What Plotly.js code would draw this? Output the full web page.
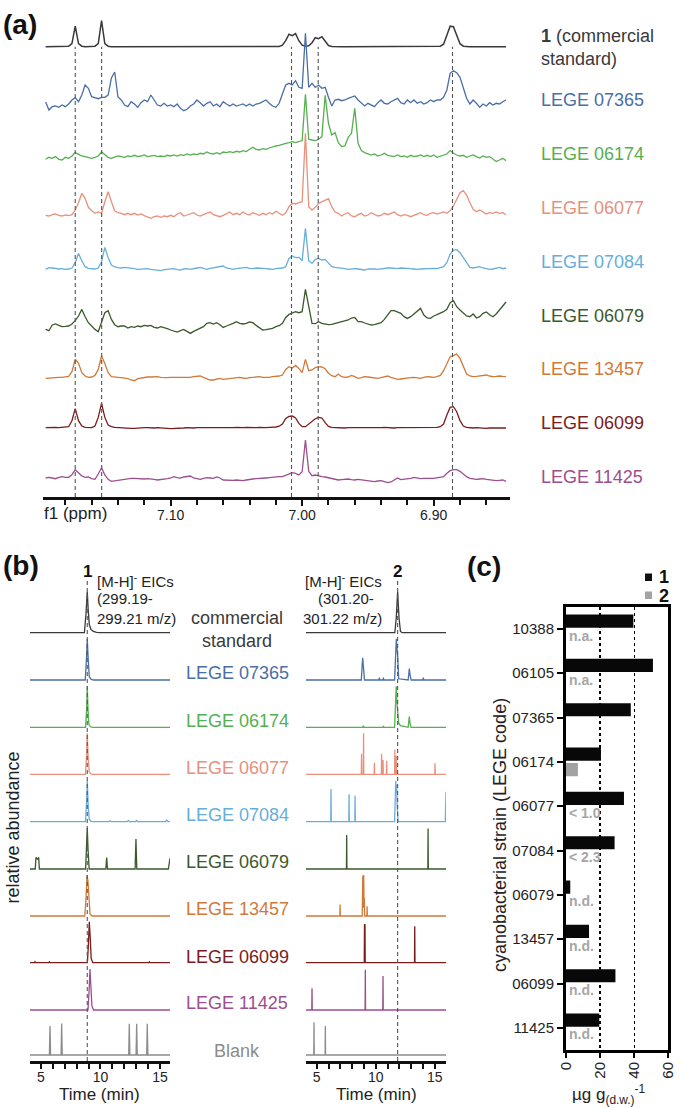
<!DOCTYPE html>
<html><head><meta charset="utf-8">
<script src="https://cdn.plot.ly/plotly-3.0.1.min.js"></script>
<style>html,body{margin:0;padding:0;background:#fff}#chart{width:685px;height:1108px}</style>
</head><body><div id="chart"></div>
<script>
// ---------------- DATA ----------------
// (a) 1H NMR, chemical shift grid (ppm) and intensities (arbitrary units)
const ppm = [7.195,7.1925,7.19,7.1875,7.185,7.1825,7.18,7.1775,7.175,7.1725,
7.17,7.1675,7.165,7.1625,7.16,7.1575,7.155,7.1525,7.15,7.1475,
7.145,7.1425,7.14,7.1375,7.135,7.1325,7.13,7.1275,7.125,7.1225,
7.12,7.1175,7.115,7.1125,7.11,7.1075,7.105,7.1025,7.1,7.0975,
7.095,7.0925,7.09,7.0875,7.085,7.0825,7.08,7.0775,7.075,7.0725,
7.07,7.0675,7.065,7.0625,7.06,7.0575,7.055,7.0525,7.05,7.0475,
7.045,7.0425,7.04,7.0375,7.035,7.0325,7.03,7.0275,7.025,7.0225,
7.02,7.0175,7.015,7.0125,7.01,7.0075,7.005,7.0025,7.0,6.9975,
6.995,6.9925,6.99,6.9875,6.985,6.9825,6.98,6.9775,6.975,6.9725,
6.97,6.9675,6.965,6.9625,6.96,6.9575,6.955,6.9525,6.95,6.9475,
6.945,6.9425,6.94,6.9375,6.935,6.9325,6.93,6.9275,6.925,6.9225,
6.92,6.9175,6.915,6.9125,6.91,6.9075,6.905,6.9025,6.9,6.8975,
6.895,6.8925,6.89,6.8875,6.885,6.8825,6.88,6.8775,6.875,6.8725,
6.87,6.8675,6.865,6.8625,6.86,6.8575,6.855,6.8525,6.85,6.8475,
6.845];

const nmrStandard = [0,0,0,0,0,0,0,0.5,3,20.5,
3,0.5,0,0,0,0.5,3,26,3,0.5,
0,0,0,0,0,0,0,0,0,0,
0,0,0,0,0,0,0,0,0,0,
0,0,0,0,0,0,0,0,0,0,
0,0,0,0,0,0,0,0,0,0,
0,0,0,0,0,0,0,0,0,0,
0,0.3,1.5,6,12.5,11,13,6,1.5,0.5,
1,4,9,8,10,5,1.2,0.3,0,0,
0,0,0,0,0,0,0,0,0,0,
0,0,0,0,0,0,0,0,0,0,
0,0,0,0,0,0,0,0,0,0,
0.5,2.5,11,20.5,20,12,3,0.5,0,0,
0,0,0,0,0,0,0,0,0,0,
0];

const nmr07365 = [3,-5,-1.7,-1,-2.3,0,-1.7,1,5,7.3,
3.3,10,20,16.7,8.3,7,6.3,7.7,7.7,10,
27,33,8,5,0,-1.7,3.3,1,-2.3,2.3,
5,3.3,10,5,0,-1,1.7,-1,0,-1.7,
1,-3.3,-5.7,-4.3,-1,1,5,2.3,-1,1.7,
3.3,-1,1,-1.7,3.3,1,-1,1,-1,0,
1,-1,1,-1,1,1.7,3.3,5,1.7,-1,
-2.3,1.7,11,20,21.7,20,24.3,17.7,16.7,71.7,
17.7,21.7,17.7,20,16.7,17.7,7.7,-1,5,5.7,
4.3,5,6.7,7.7,9,5,1.7,-1,1.7,0,
-1.7,2.3,5,1.7,1,3.3,5,6.7,2.3,1,
5,2.3,5,1.7,3.3,1,2.3,5,3.3,5,
5,7.7,15,31.7,34.3,32.3,27.7,17.7,6.7,1,
5,1.7,-2.3,1,-1,2.3,0,1.7,1,3.3,
5];

const nmr06174 = [0,2,1,2.7,0,-0.7,2,1,3.3,6.7,
5,3.3,2.7,2,1,2,3.3,7.3,4.3,2,
1,2,3.3,2.7,2,3.3,2.7,4,2.7,3.3,
4.3,2.7,3.3,4,2.7,3.3,2.7,4,3.3,4.3,
3.3,4.7,4,5.3,4.3,5.3,4.7,6,5.3,7.3,
6,5.3,6.7,5.3,7.3,6.7,7.7,6.7,8,7.3,
8.7,7.7,10,12,10,9.3,10.7,10,11.3,12.7,
13.3,14,15.3,16,16.7,17.7,16.7,18,18.7,65,
20,19.3,18.7,20,22.7,64,36,24.3,26.7,16.7,
12.7,13.3,22,26,51,16,8.7,6.7,5.3,4.3,
5.3,3.3,4.3,6,4,3.3,2.7,4.3,2.7,3.3,
2,4,2.7,3.3,4.3,2.7,4,2.7,4.3,2,
3.3,4,5.3,8.7,6,4.3,3.3,4,2,3.3,
4.3,2.7,1.3,3.3,2,2.7,0,-2.3,-0.7,1,
-1.3];

const nmr06077 = [-0.3,-1,0.3,1,-0.3,-1,0,-0.7,0.3,5,
12.3,21.7,16.7,7.7,4.3,1.7,3,1.7,13.3,23.3,
13.3,4.3,2.3,1.7,0.3,1.7,0.3,1.7,0,1,
-0.7,-1.7,-3.3,-1.7,-1,-2.3,-1,-1.7,-0.3,-1.7,
1,2.3,-1,0,1,2.3,0,-1,0.3,1.7,
3,0.3,-1,-1.7,-0.3,1.7,3,0.3,1.7,0.3,
3,1,0,2.3,1,-0.3,1.7,0.3,2.3,1,
3.7,1.7,-0.3,2.3,8.3,11.7,11,12.3,13.3,81.7,
8.3,5,7.7,11.7,13,15,16.3,8.3,3,1.7,
-1,1,2.3,-1,-1.7,0.3,1.7,-1,0,2.3,
1,-1,-0.3,1.7,0.3,1.7,3,0.3,-1,0.3,
-0.3,-1.7,-0.3,1.7,2.3,0.3,-0.3,1.7,2.3,1,
2.3,3,1.7,4.3,9,15,22.3,24.3,20,12.3,
5.7,3.3,5,3,1,2.3,1.7,3,1.7,2.3,
0.3];

const nmr07084 = [-0.7,1,0.7,0,-0.3,0,-0.7,-0.3,0.7,6,
15.3,8,2,0.3,0,-0.3,0.7,7,21.3,11.3,
3.7,1.7,1,0.7,1.3,1,0,0,-0.7,-0.3,
0,0,-0.7,-1,-1.7,-2,-1,-0.7,-0.3,0,
-1,-1.3,-0.3,0,-0.7,-0.3,0.7,1.3,0,-0.7,
0.3,1,1.7,2,2.7,0.7,-0.3,-0.7,0,0.3,
1,1.3,0.3,0,0.7,0.7,0,0,-0.3,-0.7,
0,0,0.7,2,10.3,12.7,11,11.3,8,40.3,
8,5.3,9.3,10.3,8.7,9.3,5.3,2,1.3,1,
0.3,0,-0.7,-0.3,0,-0.3,-1,-1.3,-0.3,0,
-0.3,-0.7,0,0.3,0.7,0.7,0,0,0.7,0.7,
0.3,0,-0.3,-0.7,-0.3,0,0.3,0.7,0.3,0,
0.7,2,6,14.7,18.7,19,16,11.3,5.3,1.3,
0.7,1,2,0.7,0,-0.7,-0.3,0.7,1.3,0,
0.7];

const nmr06079 = [-2.7,-4,1.7,2.7,1.3,0,0.3,0.7,2.7,6,
10.7,17.3,10,4,0.7,-2.7,-5,5,14,16,
7.3,2,0,0.7,0.7,-1.3,0,-0.7,0.7,0,
1.3,0.7,1.3,-0.7,-1.3,0,-0.7,-2,-3.3,-4.7,
-5.3,-4,-2.7,-4.7,-6.7,-4.7,-3.3,-1.3,0,3.3,
4,2.7,4,2,-0.7,0.7,1.7,3.3,5,3.3,
2.7,3.3,4.7,4,1.3,-0.7,-3.3,-3,-2.7,-1.7,
0,1,3.3,9.3,12.3,14,15,14,15,37.3,
18.3,3.3,3,5,3.3,2.7,2,2.3,3.3,4.3,
5,5.7,6.7,8.7,9.3,5,5,3.7,2.7,1.7,
2,2.7,4,7.3,11.3,16,16,14.7,13.3,10,
8.3,10,12.7,15.3,18.3,11.7,8.7,8.3,10.7,12,
13.3,15,17.3,24,26,20,16.7,14,10.7,10,
12.7,8.7,10,13.3,14.7,12,10,12.7,17.3,20.7,
24.7];

const nmr13457 = [-0.7,-0.3,0,0,0.3,0.3,0.7,1.3,6,18.5,
14.3,5,1.7,0.3,0.7,2.3,8.3,21.7,14.3,5,
1,0.3,0.3,0,-0.3,-1,-2.3,-3,-1,-0.3,
0.3,0.7,0.7,1,1,0.3,0,0,0.3,0.3,
0.3,0,0,0,0.3,1,1.3,1.7,0.3,-1,
-2.3,-2.3,-1.3,-0.7,-1.7,-1.3,-1,-0.7,-0.3,0.3,
-0.3,-0.7,0,0.3,0.7,1,0.3,0,0.3,1,
1,1.7,2.7,8.3,11,9.7,12.3,9.3,5,18.3,
7,7.7,10,11,10.7,9,4.3,2,1,3.7,
1,0.3,0.7,2.3,1,-0.7,0,1,0.7,0.3,
-0.3,-0.7,0,0.7,1.7,0.3,-1,-1.7,-1.3,-0.7,
-0.3,0,0.3,-0.3,-0.7,0.3,1,0.7,0.3,1,
2.3,7,14.3,21,22,23.7,19.3,11,3.7,1.7,
1,1.3,1.7,2,2.7,1.7,1,1.3,1.7,1.3,
1];

const nmr06099 = [0,0.3,0,0.2,0,0.3,0.5,1,7,19,
7,1.7,0.3,0,0,1.7,10.3,24.3,10.3,2.7,
1,0.3,0,0,-0.3,-0.3,-0.7,-0.7,-0.3,-0.3,
0,0,-0.3,-0.3,0,0,-0.3,-0.7,-1,-1,
-0.7,-0.3,-0.3,0,-0.3,-0.3,0,0,-0.3,-0.7,
-0.7,-0.3,-0.3,0,0,-0.3,0,0,0.3,0,
0,0.3,0,0,0,0.3,0,0,0.3,0.3,
0.7,1.5,3.7,9.3,11.3,11.7,9.7,4.3,1,1,
3.7,6.3,9,10.3,9.7,5,1.3,0.3,0,0,
-0.3,-0.3,0,0,-0.3,-0.7,-0.3,0,0,-0.3,
-0.3,0,0,0.3,0,-0.3,-0.3,0,0,-0.3,
-0.3,0,0,0,-0.3,0,0,0,0.3,0.3,
1,3.7,12.7,20.3,21,16,7,1.7,0.3,-0.3,
-0.3,0,-0.3,-0.3,-0.7,-0.3,-0.3,-0.7,-0.3,-0.3,
-0.3];

const nmr11425 = [1,1.7,1,0.3,1.7,2.3,1.7,1.7,4.3,9.3,
6.3,3,1.7,2,0.3,-0.3,5,11.3,4,-0.3,
-2.3,-1.7,-1.3,-0.7,0,0.3,0.7,0.7,0.3,-0.3,
0,0.3,0.3,-0.3,-1,-0.7,-0.3,0.3,1,2.3,
1.3,1,2,2.3,3,1,0,-0.3,0.7,1.3,
1,0.7,2,1,-1,-1.3,-1.7,-1.3,-1,-1.3,
-1.7,-1,-0.3,0,0.3,0.3,0.7,1,1.3,1.7,
2.3,2.3,2.3,3.7,5.3,6.3,5.7,4,7.3,39,
7.7,3.3,4,3,2.3,2,1.3,0,-0.3,-1,
-0.7,0,0,-0.7,-1,-0.3,-0.7,-1.3,-1.7,-2.3,
-2.7,-2,-1.7,-2.7,-3.7,-3,-1,1,-0.7,-0.3,
0,0.7,1.7,0.7,0.3,0.7,1,0.7,0.7,1,
1.7,2.3,5.7,8.3,9.3,9.3,7.7,5,2.3,0.7,
0,-0.3,0,0.3,-0.3,-1,-1.3,-1.7,-1.3,-1,
-2.3];

// reference signals of compound 1 (dashed guides, ppm)
const refPeaksPpm = [7.1725, 7.1524, 7.0081, 6.9878, 6.8857];

const sampleNames = ['LEGE 07365','LEGE 06174','LEGE 06077','LEGE 07084','LEGE 06079','LEGE 13457','LEGE 06099','LEGE 11425'];

// (b) EICs: retention time (min) and relative abundance (%)
const eicLeftTime = [
 [4.08,8.65,8.78,8.89,8.97,9.06,9.2,9.4,9.68,9.96,15.84],
 [4.08,8.72,8.82,8.89,8.97,9.06,9.2,9.4,15.84],
 [4.08,8.75,8.84,8.89,8.95,9.03,9.2,9.4,15.84],
 [4.08,8.74,8.83,8.89,8.96,9.05,9.2,9.4,15.84],
 [4.08,8.74,8.83,8.89,8.96,9.05,9.2,9.4,10.7,10.8,10.9,12.25,12.34,12.43,12.95,13.04,13.13,15.45,15.56,15.67,15.84],
 [4.08,4.52,4.58,4.7,4.81,4.87,8.75,8.83,8.89,8.96,9.05,10.45,10.52,10.59,12.91,12.98,13.05,15.7,15.78,15.84],
 [4.08,8.68,8.78,8.87,8.95,9.03,9.12,9.3,15.84],
 [4.08,4.45,4.5,4.55,5.65,5.7,5.75,8.9,8.98,9.06,9.14,9.22,9.35,14.05,14.1,14.15,15.84],
 [4.08,8.95,9.04,9.12,9.2,9.28,9.42,15.84],
 [4.08,5.71,5.76,5.81,6.69,6.74,6.79,12.37,12.42,12.47,12.99,13.04,13.09,13.88,13.93,13.98,15.84]
];
const eicLeftAbund = [
 [0,0,45,100,55,20,8,3,1,0,0],
 [0,0,50,100,50,8,2,0,0],
 [0,0,45,100,45,6,1,0,0],
 [0,0,45,100,45,6,1,0,0],
 [0,0,45,100,45,6,1,0,0,2,0,0,3,0,0,3,0,0,4,0,0],
 [0,0,28,24,28,0,0,45,100,45,0,0,28,0,0,73,0,0,26,26],
 [0,0,40,100,85,30,5,0,0],
 [0,0,2.5,0,0,2,0,0,40,100,60,10,0,0,2,0,0],
 [0,0,45,100,55,10,0,0],
 [0,0,71,0,0,77,0,0,76,0,0,76,0,0,76,0,0]
];
const eicRightTime = [
 [4.09,11.62,11.74,11.86,11.98,12.1,12.25,15.96],
 [4.09,8.78,8.85,8.9,8.95,9.05,10.27,10.31,10.35,10.61,10.65,10.69,11.6,11.68,11.75,11.8,11.86,11.95,12.75,12.82,12.85,12.9,13.0,14.0,14.04,14.08,15.96],
 [4.09,8.9,8.95,9.0,10.6,10.65,10.7,11.6,11.67,11.74,11.8,11.88,11.95,12.1,12.75,12.82,12.85,12.9,13.0,15.96],
 [4.09,8.78,8.8,8.82,8.95,8.97,8.99,9.87,9.89,9.91,10.48,10.5,10.52,10.6,10.62,10.64,10.91,10.93,10.95,11.6,11.62,11.64,11.72,11.74,11.76,15.01,15.03,15.05,15.96],
 [4.09,6.19,6.21,6.23,7.72,7.74,7.76,8.23,8.25,8.27,11.6,11.66,11.7,11.74,11.78,11.82,11.9,15.9,15.93,15.96],
 [4.09,7.52,7.54,7.56,14.42,14.44,14.46,15.96],
 [4.09,6.96,6.98,7.0,8.86,8.9,8.94,8.98,9.02,9.04,9.06,9.25,9.27,9.29,15.96],
 [4.09,9.03,9.05,9.07,9.09,9.11,13.29,13.31,13.33,15.96],
 [4.09,4.58,4.6,4.62,9.1,9.12,9.14,10.6,10.62,10.64,15.96],
 [4.09,4.75,4.77,4.79,5.71,5.73,5.75,15.96]
];
const eicRightAbund = [
 [0,0,35,100,35,3,0,0],
 [0,0,35,54,35,0,0,6,0,0,6,0,0,60,100,80,60,3,0,18,28,15,0,0,6,0,0],
 [0,0,4,0,0,3,0,0,50,100,60,35,10,4,0,18,26,12,0,0],
 [0,0,50,0,0,100,0,0,28,0,0,50,0,0,35,0,0,33,0,0,60,0,0,45,0,0,27,0,0],
 [0,0,80,0,0,67,0,0,63,0,0,60,100,70,90,40,0,0,73,73],
 [0,0,83,0,0,99,0,0],
 [0,0,28,0,0,98,20,100,20,43,0,0,24,0,0],
 [0,0,94,90,94,0,0,89,0,0],
 [0,0,53,0,0,98,0,0,83,0,0],
 [0,0,80,0,0,71,0,0]
];
const eicRt1 = 8.89, eicRt2 = 11.86;   // retention times of 1 and 2 (min)

// (c) quantification (µg g(d.w.)-1)
const strains = ['10388','06105','07365','06174','06077','07084','06079','13457','06099','11425'];
const conc1 = [39.5,51,38,20.5,34,28.5,2.5,13.5,29,19.5];
const conc2 = [null,null,null,7,null,null,null,null,null,null];
const conc2Note = ['n.a.','n.a.','','','< 1.0','< 2.3','n.d.','n.d.','n.d.','n.d.'];

// ---------------- STYLE / LAYOUT ----------------
const W = 685, H = 1108;
const FONT = 'Liberation Sans, Arial, Helvetica, sans-serif';
const px = v => v / W, py = v => 1 - v / H;
const colStd = '#3a3a3a';
const sampleColors = ['#4a6fa5','#55b04f','#e8907c','#67aedb','#3b5a2c','#d07a3a','#7a1c1c','#9c4e8e'];
const blankColor = '#8c8c8c';

const nmrSeries = [nmrStandard,nmr07365,nmr06174,nmr06077,nmr07084,nmr06079,nmr13457,nmr06099,nmr11425];
const nmrColors = [colStd].concat(sampleColors);
const nmrOffset = [450.3,392,337.7,282,228.3,170.3,119.3,69.3,18];

const eicColors = [colStd].concat(sampleColors, [blankColor]);
const eicOffset = [428.3,381,333.7,286.7,239.3,192,145,98.3,51,6];
const EIC_SCALE = 0.41;

const traces = [];
nmrSeries.forEach((ys,k) => traces.push({
  type:'scatter', mode:'lines', x:ppm, y:ys.map(v => v + nmrOffset[k]),
  xaxis:'x', yaxis:'y', hoverinfo:'skip', showlegend:false,
  line:{color:nmrColors[k], width:k===0?1.5:1.3}
}));
eicLeftTime.forEach((t,k) => traces.push({
  type:'scatter', mode:'lines', x:t, y:eicLeftAbund[k].map(v => v*EIC_SCALE + eicOffset[k]),
  xaxis:'x2', yaxis:'y2', hoverinfo:'skip', showlegend:false,
  line:{color:eicColors[k], width:1.3}
}));
eicRightTime.forEach((t,k) => traces.push({
  type:'scatter', mode:'lines', x:t, y:eicRightAbund[k].map(v => v*EIC_SCALE + eicOffset[k]),
  xaxis:'x3', yaxis:'y3', hoverinfo:'skip', showlegend:false,
  line:{color:eicColors[k], width:1.3}
}));
traces.push({type:'bar', orientation:'h', name:'1', y:strains, x:conc1, xaxis:'x4', yaxis:'y4',
  marker:{color:'#080808'}, hoverinfo:'skip', showlegend:false});
traces.push({type:'bar', orientation:'h', name:'2', y:strains, x:conc2, xaxis:'x4', yaxis:'y4',
  marker:{color:'#a3a3a3'}, hoverinfo:'skip', showlegend:false});

const ann = [];
function A(text, x, y, o) {
  o = o || {};
  ann.push(Object.assign({text:text, xref:'paper', yref:'paper', x:px(x), y:py(y),
    xanchor:o.xa||'left', yanchor:'middle', showarrow:false, align:o.align||'left',
    textangle:o.angle||0,
    font:{family:FONT, size:o.size||18, color:o.color||'#222'}}, o.extra||{}));
}
// panel letters
A('<b>(a)</b>', 1, 25, {size:28, color:'#111'});
A('<b>(b)</b>', 1, 565, {size:28, color:'#111'});
A('<b>(c)</b>', 465, 567, {size:28, color:'#111'});
// (a) labels
A('<b>1</b> (commercial<br>standard)', 539, 47, {color:colStd});
const nmrLabelY = [100,154,208,262,316,369,423,477];
sampleNames.forEach((s,k) => A(s, 539, nmrLabelY[k], {color:sampleColors[k]}));
A('f1 (ppm)', 42, 514, {size:17});
// (b) header
A('<b>1</b>', 87.3, 571, {xa:'center', size:17, color:'#111'});
A('[M-H]<sup>-</sup> EICs', 95, 580, {size:15});
A('(299.19-', 95, 598.5, {size:15});
A('299.21 m/z)', 95, 618, {size:15});
A('<b>2</b>', 397.7, 571, {xa:'center', size:17, color:'#111'});
A('[M-H]<sup>-</sup> EICs', 384, 580, {xa:'right', size:15});
A('(301.20-', 376, 598.5, {xa:'right', size:15});
A('301.22 m/z)', 384, 618, {xa:'right', size:15});
// (b) middle labels
A('commercial<br>standard', 237, 629, {xa:'center', align:'center', color:colStd});
const eicLabelY = [673.3,720.7,767.7,815,861.7,909.3,956.7,1003.3];
sampleNames.forEach((s,k) => A(s, 237, eicLabelY[k], {xa:'center', color:sampleColors[k]}));
A('Blank', 237, 1051, {xa:'center', color:blankColor});
A('relative abundance', 12.5, 828, {xa:'center', angle:-90});
A('Time (min)', 100, 1094, {xa:'center', size:17});
A('Time (min)', 376, 1094, {xa:'center', size:17});
// (c) titles & legend
A('cyanobacterial strain (LEGE code)', 500, 835, {xa:'center', angle:-90});
A('µg g<sub>(d.w.)</sub><sup>-1</sup>', 608, 1094, {xa:'center', size:17});
A('<b>1</b>', 657, 577, {size:18, color:'#111'});
A('<b>2</b>', 657, 595.5, {size:18, color:'#111'});
// (c) notes for compound 2
conc2Note.forEach((t,k) => { if (t) ann.push({text:'<b>'+t+'</b>', xref:'x4', yref:'y4', x:0, y:k+0.15,
  xanchor:'left', yanchor:'middle', xshift:1, showarrow:false,
  font:{family:FONT, size:14, color:'#a6a6a6'}}); });

const shapes = [];
refPeaksPpm.forEach(p => shapes.push({type:'line', xref:'x', yref:'y', x0:p, x1:p, y0:0, y1:nmrOffset[0],
  line:{color:'#555', width:1.1, dash:'4px,3px'}, layer:'above'}));
shapes.push({type:'line', xref:'x2', yref:'y2', x0:eicRt1, x1:eicRt1, y0:0, y1:483, line:{color:'#555', width:1.1, dash:'4px,3px'}});
shapes.push({type:'line', xref:'x3', yref:'y3', x0:eicRt2, x1:eicRt2, y0:0, y1:483, line:{color:'#555', width:1.1, dash:'4px,3px'}});
shapes.push({type:'rect', xref:'paper', yref:'paper', x0:px(645), x1:px(652), y0:py(581), y1:py(573.5), fillcolor:'#111', line:{width:0}});
shapes.push({type:'rect', xref:'paper', yref:'paper', x0:px(645), x1:px(652), y0:py(599), y1:py(591.5), fillcolor:'#a3a3a3', line:{width:0}});

const tfont = {family:FONT, size:15, color:'#222'};
const eicX = {showline:true, linewidth:3, linecolor:'#111', ticks:'outside', ticklen:5, tickwidth:2, tickcolor:'#111',
  tick0:0, dtick:5, ticklabelstandoff:-4,
  minor:{tick0:0, dtick:1, ticks:'outside', ticklen:5, tickwidth:2, tickcolor:'#111', showgrid:false},
  showgrid:false, zeroline:false, tickfont:{family:FONT, size:14, color:'#222'}, fixedrange:true};

const layout = {
  width:W, height:H, margin:{l:0,r:0,t:0,b:0}, paper_bgcolor:'#fff', plot_bgcolor:'rgba(0,0,0,0)',
  font:{family:FONT, color:'#222'}, showlegend:false,
  barmode:'group', bargap:0.3, bargroupgap:0.15,
  xaxis:{domain:[px(43),px(510)], range:[7.197,6.842], anchor:'y', showline:true, linewidth:2.5, linecolor:'#111',
    ticks:'outside', ticklen:6, tickwidth:2, tickcolor:'#111', tick0:7.0, dtick:0.1, tickformat:'.2f', ticklabelstandoff:-2,
    minor:{tick0:7.0, dtick:0.02, ticks:'outside', ticklen:5, tickwidth:2, tickcolor:'#111', showgrid:false},
    showgrid:false, zeroline:false, tickfont:{family:FONT, size:14, color:'#222'}, fixedrange:true},
  yaxis:{domain:[py(497),1], range:[0,497], visible:false, anchor:'x', fixedrange:true},
  xaxis2:Object.assign({domain:[px(30),px(170)], range:[4.08,15.84], anchor:'y2'}, eicX),
  yaxis2:{domain:[py(1061),py(575)], range:[0,486], visible:false, anchor:'x2', fixedrange:true},
  xaxis3:Object.assign({domain:[px(306),px(446)], range:[4.09,15.96], anchor:'y3'}, eicX),
  yaxis3:{domain:[py(1061),py(575)], range:[0,486], visible:false, anchor:'x3', fixedrange:true},
  xaxis4:{domain:[px(566),px(668.3)], range:[0,60], anchor:'y4', showline:true, linewidth:3, linecolor:'#000', mirror:true,
    ticks:'outside', ticklen:5, tickwidth:2, tickcolor:'#000', tick0:0, dtick:20, tickangle:-90, tickfont:tfont, ticklabelstandoff:-2,
    showgrid:true, gridcolor:'#000', gridwidth:1.2, griddash:'dot', zeroline:false, fixedrange:true},
  yaxis4:{domain:[py(1050),py(606.7)], type:'category', categoryorder:'array', categoryarray:strains, autorange:'reversed',
    anchor:'x4', showline:true, linewidth:3, linecolor:'#000', mirror:true, ticks:'outside', ticklen:6, tickwidth:2,
    tickcolor:'#000', tickfont:tfont, showgrid:false, zeroline:false, fixedrange:true},
  yaxis5:{overlaying:'y4', anchor:'x4', side:'right', range:[9.5,-0.5], tickmode:'array', tickvals:strains.map((s,i)=>i),
    ticks:'inside', ticklen:5, tickwidth:2, tickcolor:'#000', showticklabels:false, showgrid:false, zeroline:false, showline:false, fixedrange:true},
  annotations:ann, shapes:shapes
};

Plotly.newPlot('chart', traces, layout, {displayModeBar:false, staticPlot:true});
</script>
</body></html>
